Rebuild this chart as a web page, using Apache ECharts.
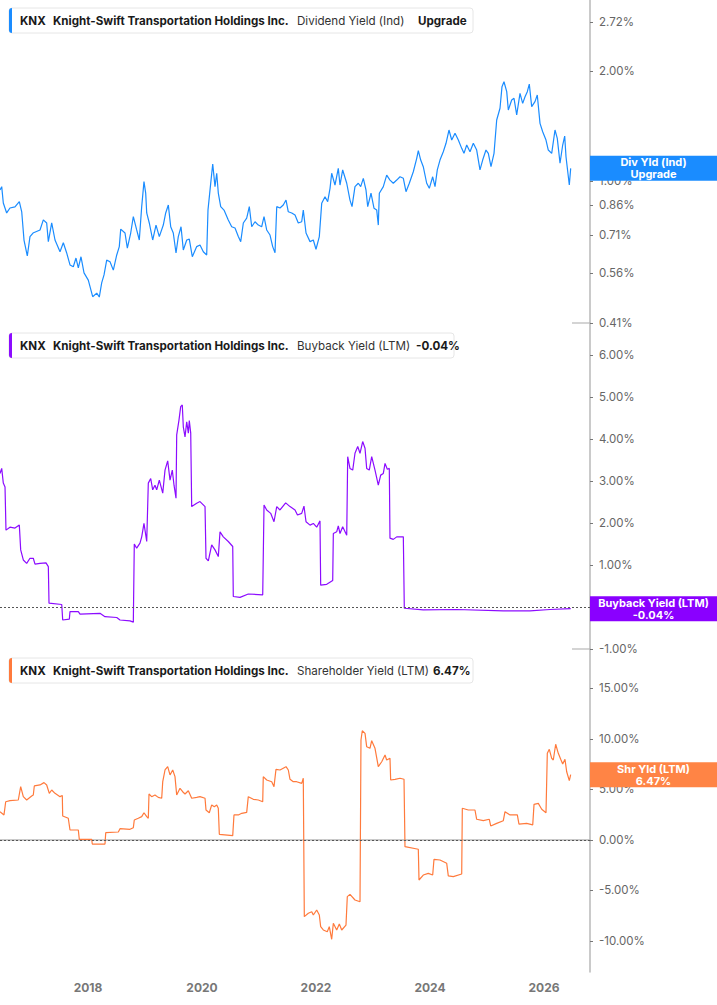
<!DOCTYPE html>
<html><head><meta charset="utf-8">
<script src="https://cdn.jsdelivr.net/npm/echarts@6/dist/echarts.min.js"></script>
<style>html,body{margin:0;padding:0;background:#fff}#c{width:717px;height:1005px}</style>
</head><body><div id="c"></div><script>
// ---------- DATA (decimal year, percent) ----------
const ticker = 'KNX';
const company = 'Knight-Swift Transportation Holdings Inc.';
const xTickLabels = [2018, 2020, 2022, 2024, 2026];
const divTicks = [0.41, 0.56, 0.71, 0.86, 1.00, 2.00, 2.72];
const buyTicks = [-1, 0, 1, 2, 3, 4, 5, 6];
const shrTicks = [-10, -5, 0, 5, 10, 15];

const dividendYield = [
[2016.456,0.945],[2016.486,0.965],[2016.514,0.871],[2016.573,0.818],[2016.631,0.844],[2016.719,0.850],[2016.795,0.878],[2016.837,0.824],[2016.877,0.690],[2016.935,0.624],[2016.982,0.705],[2017.035,0.721],[2017.158,0.735],[2017.216,0.783],[2017.275,0.768],[2017.304,0.683],[2017.363,0.768],[2017.421,0.690],[2017.509,0.641],[2017.567,0.678],[2017.626,0.636],[2017.684,0.590],[2017.742,0.583],[2017.789,0.616],[2017.830,0.579],[2017.877,0.621],[2017.930,0.561],[2018.005,0.536],[2018.082,0.483],[2018.153,0.494],[2018.198,0.482],[2018.240,0.527],[2018.281,0.554],[2018.328,0.608],[2018.386,0.602],[2018.444,0.571],[2018.504,0.628],[2018.549,0.662],[2018.574,0.739],[2018.649,0.721],[2018.690,0.656],[2018.749,0.721],[2018.795,0.799],[2018.854,0.735],[2018.900,0.690],[2018.942,0.851],[2018.982,0.996],[2019.012,0.927],[2019.030,0.818],[2019.075,0.768],[2019.135,0.690],[2019.193,0.758],[2019.251,0.705],[2019.321,0.758],[2019.363,0.818],[2019.409,0.860],[2019.451,0.750],[2019.496,0.721],[2019.544,0.636],[2019.584,0.705],[2019.632,0.750],[2019.672,0.648],[2019.732,0.690],[2019.777,0.694],[2019.830,0.621],[2019.907,0.662],[2019.965,0.669],[2020.023,0.641],[2020.082,0.628],[2020.105,0.833],[2020.153,0.987],[2020.188,1.113],[2020.228,0.965],[2020.258,1.050],[2020.286,0.927],[2020.328,0.851],[2020.386,0.833],[2020.461,0.783],[2020.521,0.750],[2020.579,0.744],[2020.637,0.705],[2020.679,0.683],[2020.725,0.768],[2020.784,0.792],[2020.830,0.851],[2020.872,0.750],[2020.930,0.774],[2020.988,0.758],[2021.047,0.750],[2021.088,0.799],[2021.135,0.735],[2021.193,0.712],[2021.240,0.662],[2021.281,0.637],[2021.311,0.851],[2021.368,0.844],[2021.426,0.860],[2021.474,0.887],[2021.514,0.824],[2021.574,0.818],[2021.632,0.807],[2021.689,0.768],[2021.749,0.774],[2021.777,0.833],[2021.825,0.721],[2021.895,0.683],[2021.953,0.690],[2022.000,0.651],[2022.058,0.705],[2022.100,0.869],[2022.158,0.906],[2022.205,0.878],[2022.246,0.955],[2022.275,1.050],[2022.333,0.975],[2022.391,1.083],[2022.421,0.975],[2022.468,1.072],[2022.539,0.986],[2022.596,0.887],[2022.632,0.851],[2022.684,0.965],[2022.742,0.986],[2022.784,0.965],[2022.830,1.017],[2022.877,0.945],[2022.907,0.851],[2022.965,0.926],[2023.018,0.842],[2023.065,0.833],[2023.093,0.758],[2023.111,0.926],[2023.181,0.965],[2023.240,1.038],[2023.298,1.006],[2023.356,0.986],[2023.416,1.006],[2023.474,1.027],[2023.532,1.017],[2023.579,0.935],[2023.637,0.986],[2023.707,1.060],[2023.767,1.153],[2023.795,1.210],[2023.837,1.141],[2023.882,1.094],[2023.942,0.986],[2023.988,0.955],[2024.047,1.027],[2024.088,0.965],[2024.128,1.072],[2024.175,1.141],[2024.233,1.202],[2024.281,1.268],[2024.333,1.378],[2024.381,1.294],[2024.439,1.350],[2024.497,1.294],[2024.556,1.228],[2024.596,1.190],[2024.644,1.254],[2024.702,1.202],[2024.760,1.268],[2024.819,1.215],[2024.877,1.072],[2024.924,1.141],[2024.982,1.215],[2025.023,1.190],[2025.070,1.094],[2025.123,1.190],[2025.170,1.468],[2025.228,1.580],[2025.263,1.810],[2025.298,1.867],[2025.346,1.754],[2025.374,1.563],[2025.433,1.664],[2025.474,1.682],[2025.521,1.515],[2025.579,1.736],[2025.626,1.630],[2025.667,1.699],[2025.707,1.754],[2025.742,1.840],[2025.784,1.596],[2025.842,1.647],[2025.882,1.718],[2025.930,1.437],[2025.977,1.363],[2026.035,1.294],[2026.075,1.215],[2026.135,1.190],[2026.193,1.378],[2026.233,1.308],[2026.281,1.118],[2026.328,1.254],[2026.363,1.327],[2026.386,1.165],[2026.444,0.975],[2026.468,1.083]
];

const buybackYield = [
[2016.456,3.18],[2016.486,3.30],[2016.514,2.95],[2016.544,2.86],[2016.561,1.83],[2016.631,1.90],[2016.719,1.88],[2016.795,1.95],[2016.819,1.36],[2016.865,1.12],[2016.924,1.04],[2016.982,1.16],[2017.040,1.16],[2017.070,1.02],[2017.158,1.04],[2017.263,1.05],[2017.304,0.96],[2017.316,0.09],[2017.539,0.06],[2017.556,-0.31],[2017.672,-0.29],[2017.684,-0.11],[2017.830,-0.11],[2017.860,-0.17],[2018.210,-0.15],[2018.298,-0.23],[2018.504,-0.25],[2018.561,-0.31],[2018.737,-0.33],[2018.795,-0.36],[2018.812,1.50],[2018.854,1.40],[2018.912,1.52],[2018.942,1.67],[2018.982,1.99],[2019.030,1.56],[2019.058,2.95],[2019.100,3.06],[2019.135,2.79],[2019.175,2.90],[2019.205,2.79],[2019.251,3.02],[2019.311,2.71],[2019.351,3.26],[2019.398,3.48],[2019.439,3.02],[2019.479,3.26],[2019.509,2.90],[2019.544,2.59],[2019.556,4.10],[2019.596,4.45],[2019.626,4.77],[2019.654,4.81],[2019.672,4.29],[2019.702,4.05],[2019.732,4.41],[2019.760,4.14],[2019.777,4.44],[2019.802,4.14],[2019.819,2.39],[2019.907,2.47],[2019.965,2.51],[2020.053,2.39],[2020.070,1.16],[2020.111,1.10],[2020.170,1.48],[2020.228,1.36],[2020.286,1.20],[2020.316,1.79],[2020.374,1.67],[2020.461,1.56],[2020.539,1.44],[2020.549,0.25],[2020.667,0.23],[2020.812,0.31],[2021.065,0.29],[2021.088,2.43],[2021.135,2.31],[2021.205,2.23],[2021.263,2.03],[2021.311,2.39],[2021.368,2.31],[2021.468,2.48],[2021.544,2.39],[2021.632,2.31],[2021.675,2.19],[2021.749,2.23],[2021.789,2.40],[2021.825,2.03],[2021.895,1.95],[2021.953,1.99],[2022.012,1.90],[2022.070,2.05],[2022.082,0.52],[2022.188,0.54],[2022.258,0.60],[2022.293,0.63],[2022.304,1.75],[2022.363,1.79],[2022.391,1.93],[2022.421,1.75],[2022.468,1.91],[2022.539,1.71],[2022.556,3.58],[2022.596,3.30],[2022.644,3.26],[2022.684,3.66],[2022.732,3.82],[2022.772,3.66],[2022.819,3.94],[2022.860,3.78],[2022.889,3.30],[2022.935,3.26],[2022.977,3.58],[2023.035,3.26],[2023.093,2.90],[2023.135,3.14],[2023.181,3.18],[2023.211,3.42],[2023.251,3.28],[2023.286,3.30],[2023.298,1.64],[2023.356,1.61],[2023.416,1.67],[2023.532,1.67],[2023.549,-0.03],[2023.882,-0.07],[2024.468,-0.06],[2025.286,-0.09],[2025.754,-0.09],[2026.105,-0.06],[2026.468,-0.04]
];

const shareholderYield = [
[2016.456,2.80],[2016.526,2.48],[2016.556,3.79],[2016.631,3.89],[2016.777,3.96],[2016.819,5.28],[2016.865,4.29],[2016.924,3.96],[2017.012,4.36],[2017.040,4.46],[2017.058,5.35],[2017.158,5.45],[2017.228,5.68],[2017.275,5.45],[2017.321,4.62],[2017.363,4.95],[2017.421,4.62],[2017.509,4.29],[2017.549,4.40],[2017.556,2.38],[2017.654,2.15],[2017.684,0.99],[2017.830,0.99],[2017.847,0.07],[2018.065,0.07],[2018.075,-0.40],[2018.298,-0.40],[2018.311,0.72],[2018.532,0.79],[2018.561,1.12],[2018.737,1.06],[2018.795,1.22],[2018.812,1.98],[2018.882,2.15],[2018.942,2.31],[2018.982,2.70],[2019.030,2.31],[2019.058,2.15],[2019.070,4.55],[2019.117,4.29],[2019.175,4.46],[2019.233,4.22],[2019.293,4.13],[2019.311,5.77],[2019.351,6.93],[2019.398,7.26],[2019.439,6.44],[2019.486,6.93],[2019.526,6.27],[2019.556,4.46],[2019.614,5.12],[2019.661,4.78],[2019.702,4.55],[2019.760,4.88],[2019.819,4.13],[2019.907,4.22],[2019.965,4.29],[2020.053,4.13],[2020.070,2.97],[2020.128,2.70],[2020.170,3.47],[2020.216,3.30],[2020.258,3.47],[2020.286,3.14],[2020.304,0.56],[2020.539,0.43],[2020.561,2.48],[2020.637,2.48],[2020.697,2.64],[2020.784,2.74],[2020.812,4.29],[2020.900,4.03],[2020.988,3.96],[2021.065,3.79],[2021.075,6.27],[2021.135,5.94],[2021.223,5.77],[2021.263,5.28],[2021.298,7.00],[2021.368,6.93],[2021.474,7.26],[2021.514,6.93],[2021.544,6.01],[2021.602,5.77],[2021.661,5.77],[2021.749,5.61],[2021.777,6.11],[2021.795,-7.59],[2021.865,-7.26],[2021.925,-7.10],[2021.953,-7.43],[2022.012,-6.93],[2022.058,-7.43],[2022.082,-8.58],[2022.128,-8.91],[2022.198,-9.08],[2022.233,-8.58],[2022.275,-9.83],[2022.304,-8.25],[2022.363,-8.91],[2022.409,-8.32],[2022.451,-8.91],[2022.526,-8.42],[2022.549,-5.61],[2022.596,-5.38],[2022.684,-5.94],[2022.772,-6.11],[2022.789,9.90],[2022.812,10.82],[2022.860,10.56],[2022.889,9.24],[2022.947,9.08],[2022.977,9.83],[2023.035,9.08],[2023.093,7.26],[2023.153,7.75],[2023.211,8.42],[2023.240,7.92],[2023.298,8.09],[2023.310,5.94],[2023.386,6.01],[2023.474,6.11],[2023.544,6.01],[2023.561,-0.66],[2023.795,-0.92],[2023.807,-3.96],[2023.882,-3.47],[2023.970,-3.30],[2024.047,-3.47],[2024.070,-1.91],[2024.175,-1.98],[2024.293,-2.31],[2024.321,-3.56],[2024.409,-3.63],[2024.556,-3.37],[2024.567,3.14],[2024.672,2.97],[2024.789,2.97],[2024.819,2.05],[2024.935,1.91],[2025.040,2.05],[2025.065,1.39],[2025.170,1.65],[2025.286,1.91],[2025.316,2.80],[2025.404,2.48],[2025.532,2.48],[2025.561,1.58],[2025.696,1.65],[2025.802,1.49],[2025.825,3.53],[2025.900,3.63],[2025.960,3.04],[2026.035,2.70],[2026.058,8.58],[2026.093,8.98],[2026.135,8.09],[2026.163,7.92],[2026.205,9.48],[2026.251,8.58],[2026.293,7.99],[2026.328,7.52],[2026.368,7.99],[2026.398,6.76],[2026.444,5.87],[2026.468,6.47]
];

const panels = [
  {metric:'Dividend Yield (Ind)', value:'Upgrade', tag:['Div Yld (Ind)','Upgrade'], color:'#1a8cff', tagColor:'#1a8cff', data: dividendYield},
  {metric:'Buyback Yield (LTM)', value:'-0.04%', tag:['Buyback Yield (LTM)','-0.04%'], color:'#8c0cff', tagColor:'#8a00ff', data: buybackYield},
  {metric:'Shareholder Yield (LTM)', value:'6.47%', tag:['Shr Yld (LTM)','6.47%'], color:'#ff7a3c', tagColor:'#ff8445', data: shareholderYield}
];

// ---------- LAYOUT ----------
const FONT = 'Inter, "Noto Sans", sans-serif';
const X_MIN = 2016.456, X_MAX = 2026.807;
const grids = [
  {left:0, top:0, width:590, height:323},
  {left:0, top:323, width:590, height:326},
  {left:0, top:649, width:590, height:323}
];
const axisGray = '#b8b8b8';
const labelStyle = {color:'#666', fontSize:11.5, fontFamily:FONT, margin:9};

const chart = echarts.init(document.getElementById('c'), null, {renderer:'svg'});

const yAxes = [
  {type:'log', logBase:Math.E, min:0.4094, max:3.122, ticks:divTicks},
  {type:'value', min:-1, max:6.762, ticks:buyTicks},
  {type:'value', min:-13.07, max:18.91, ticks:shrTicks}
].map((a, i) => ({
  type:a.type, logBase:a.logBase, gridIndex:i, position:'right', min:a.min, max:a.max,
  axisLine:{show:true, lineStyle:{color:axisGray, width:1.5}},
  axisTick:{show:true, customValues:a.ticks, length:3, lineStyle:{color:'#777', width:1}},
  axisLabel:Object.assign({customValues:a.ticks, formatter:v => Number(v).toFixed(2) + '%'}, labelStyle),
  splitLine:{show:false}
}));

const xAxes = [0,1,2].map(i => ({
  type:'value', gridIndex:i, min:X_MIN, max:X_MAX, show:i===2,
  axisLine:{show:true, lineStyle:{color:axisGray, width:1.5}},
  axisTick:{show:false},
  splitLine:{show:false},
  axisLabel:{customValues:xTickLabels, formatter:v => String(Math.round(v)), color:'#777', fontWeight:'bold', fontSize:12, fontFamily:FONT, margin:9}
}));

const series = panels.map((p, i) => ({
  type:'line', xAxisIndex:i, yAxisIndex:i, data:p.data, showSymbol:false, symbol:'none',
  lineStyle:{color:p.color, width:1.2}, itemStyle:{color:p.color}, silent:true,
  markLine: i === 0 ? undefined : {
    silent:true, symbol:'none', label:{show:false},
    lineStyle:{color:'#555', type:[2,2], width:1},
    data:[{yAxis:0}]
  }
}));

chart.setOption({
  animation:false,
  textStyle:{fontFamily:FONT},
  grid:grids, xAxis:xAxes, yAxis:yAxes, series:series
});

// ---------- HEADERS + VALUE TAGS ----------
const headerTops = [8, 333, 658];
const headerRights = [473, 454, 473];
const valueX = [418, 416, 433];
const graphics = [];
panels.forEach((p, i) => {
  const t = headerTops[i], h = 25;
  graphics.push({type:'rect', shape:{x:9, y:t, width:headerRights[i]-9, height:h, r:3}, style:{fill:'#fff', stroke:'#e6e6e6', lineWidth:1}, z:10});
  graphics.push({type:'rect', shape:{x:9, y:t, width:3, height:h, r:[3,0,0,3]}, style:{fill:p.color}, z:11});
  const cy = t + h/2;
  const txt = (x, s, bold, col) => graphics.push({type:'text', x:x, y:cy, z:12, style:{text:s, fill:col, font:(bold?'bold ':'') + '11.6px ' + FONT, verticalAlign:'middle', textAlign:'left'}});
  txt(20, ticker, true, '#1a1a1a');
  txt(53, company, true, '#1a1a1a');
  txt(297, p.metric, false, '#333');
  txt(valueX[i], p.value, true, '#1a1a1a');

  const last = p.data[p.data.length - 1];
  const py = chart.convertToPixel({xAxisIndex:i, yAxisIndex:i}, last)[1];
  graphics.push({type:'rect', shape:{x:590, y:py - 12.5, width:127, height:25}, style:{fill:p.tagColor}, z:20});
  graphics.push({type:'text', x:653.5, y:py, z:21, style:{text:p.tag.join('\n'), fill:'#fff', font:'bold 11px ' + FONT, textAlign:'center', verticalAlign:'middle', lineHeight:12}});
});
// short panel separators at the axis
[323, 649].forEach(y => graphics.push({type:'line', shape:{x1:572, y1:y, x2:590, y2:y}, style:{stroke:axisGray, lineWidth:1.2}, z:5}));
chart.setOption({graphic:graphics});
</script></body></html>
